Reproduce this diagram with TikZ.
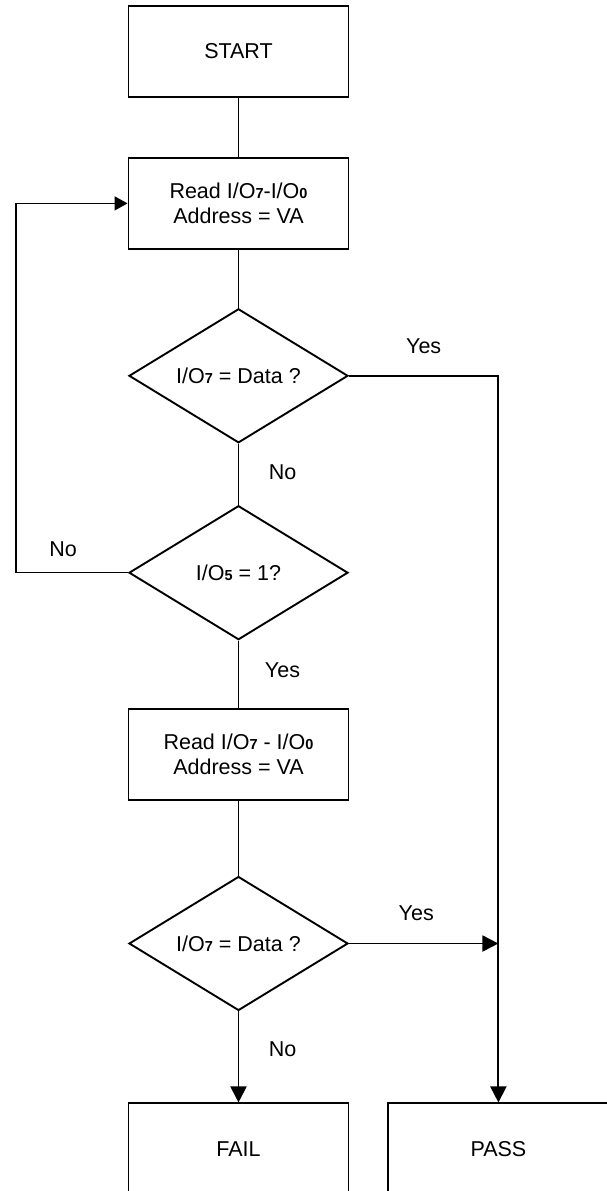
\documentclass[tikz,border=0pt]{standalone}
\usepackage{fontspec}
\setmainfont{Liberation Sans}
\usetikzlibrary{arrows.meta,positioning,shapes.geometric}
\newcommand\sbit[1]{{\fontsize{14.5}{14.5}\selectfont\bfseries #1}}

\begin{document}
\begin{tikzpicture}[x=1pt,y=-1pt,font=\fontsize{21.5}{25}\selectfont,every node/.style={align=center},
    stepbox/.style={draw,line width=1.9pt,minimum width=220pt,minimum height=91pt,inner sep=0pt},
    testbox/.style={draw,diamond,aspect=1.63,line width=1.9pt,minimum width=219pt,minimum height=134pt,inner sep=0pt},
    flow/.style={line width=1.9pt},
    bigtip/.style={line width=1.9pt,-{Triangle[length=16pt,width=16pt]}},
    thinloop/.style={line width=1.3pt,-{Triangle[length=13pt,width=14pt]}},
    tag/.style={inner sep=0pt}]
    \useasboundingbox[fill=white] (0,0) rectangle (607,1191);
    \node[stepbox] (start) at (238.5,51.5) {START};
    \node[stepbox,below=59pt of start] (read1) {Read I/O\sbit{7}-I/O\sbit{0}\\Address = VA};
    \node[testbox,below=58pt of read1] (chk7) {I/O\sbit{7} = Data ?};
    \node[testbox,below=61pt of chk7] (chk5) {I/O\sbit{5} = 1?};
    \node[stepbox,below=67pt of chk5] (read2) {Read I/O\sbit{7} - I/O\sbit{0}\\Address = VA};
    \node[testbox,below=75pt of read2] (again7) {I/O\sbit{7} = Data ?};
    \node[stepbox,below=91pt of again7] (fail) {FAIL};
    \node[stepbox,right=38pt of fail] (pass) {PASS};
    \coordinate (back) at (16,0);
    \coordinate (join) at (again7.east -| pass.north);
    \draw[flow] (start)--(read1)--(chk7);
    \draw[flow] (chk7) -- node[tag,pos=0.47,xshift=44pt]{No} (chk5);
    \draw[flow] (chk5) -- node[tag,pos=0.44,xshift=44pt]{Yes} (read2);
    \draw[flow] (read2) -- (again7);
    \draw[bigtip] (again7) -- node[tag,pos=0.42,xshift=44pt]{No} (fail);
    \draw[bigtip] (again7.east) -- node[tag,pos=0.45,yshift=30pt]{Yes} (join);
    \draw[bigtip] (chk7.east) -| node[tag,pos=0.25,yshift=30pt]{Yes} (pass.north);
    \draw[thinloop] (chk5.west) -- node[tag,pos=0.58,yshift=23pt]{No} (chk5.west -| back) |- (read1.west);
\end{tikzpicture}
\end{document}
